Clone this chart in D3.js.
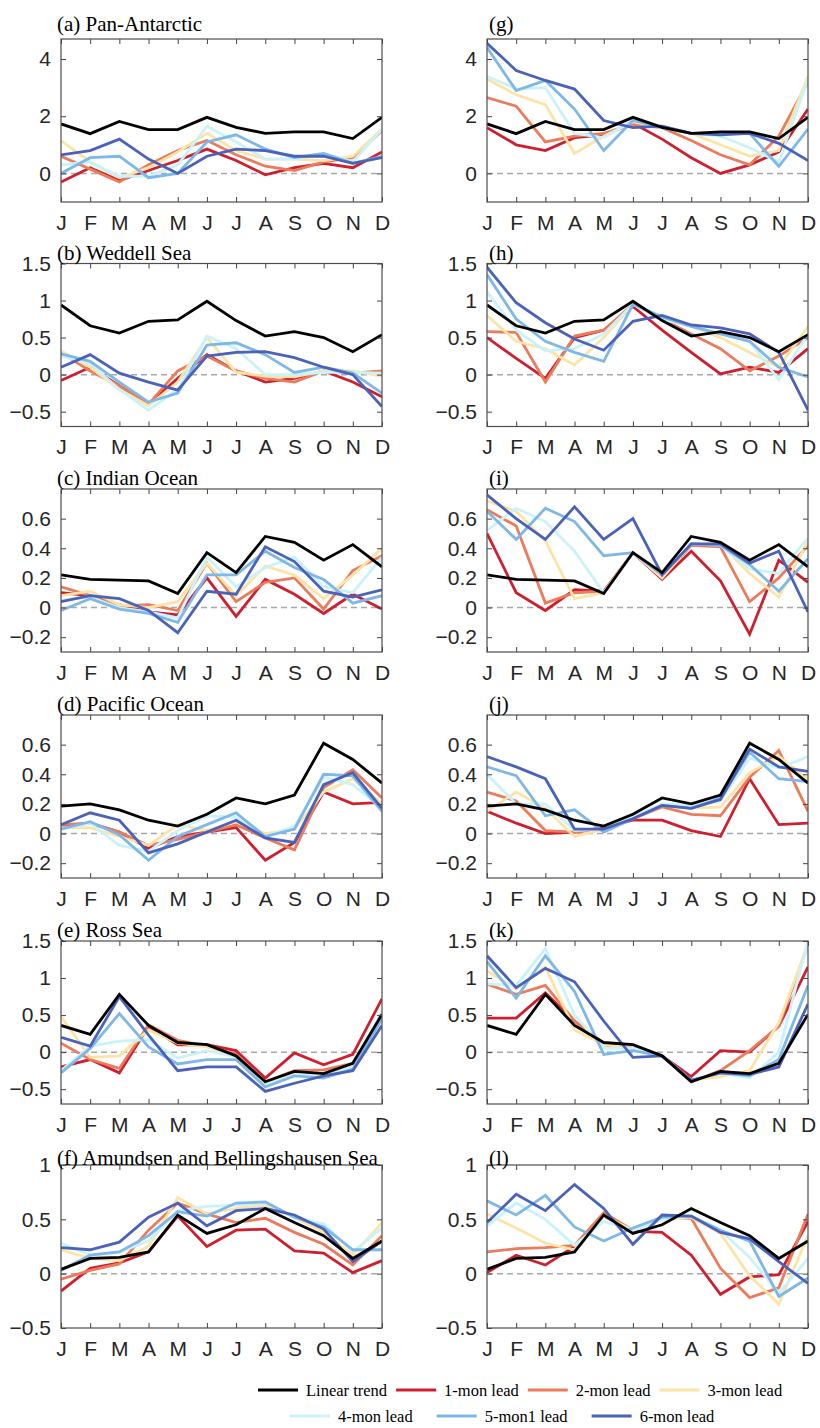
<!DOCTYPE html>
<html>
<head>
<meta charset="utf-8">
<script src="https://cdn.jsdelivr.net/npm/d3@7"></script>
<style>
  body { margin: 0; background: #fff; }
  .tick text { font-family: "Liberation Sans", Arial, sans-serif; font-size: 21px; fill: #262626; }
  .tick line { stroke: #444; }
  .title { font-family: "Liberation Serif", "Times New Roman", serif; font-size: 21px; fill: #000; }
  .leg { font-family: "Liberation Serif", "Times New Roman", serif; font-size: 16.5px; fill: #000; }
</style>
</head>
<body>
<script>
var months = ["J", "F", "M", "A", "M", "J", "J", "A", "S", "O", "N", "D"];
var names = ["Linear trend", "1-mon lead", "2-mon lead", "3-mon lead", "4-mon lead", "5-mon1 lead", "6-mon lead"];
var colors = ["#000000", "#cf1f2e", "#ec7b5b", "#fde4a6", "#caf2fb", "#7db8e8", "#4a62ba"];

// linear trend, shared by left and right columns
var trendPan = [1.73, 1.39, 1.82, 1.53, 1.53, 1.96, 1.61, 1.40, 1.45, 1.45, 1.22, 1.96];
var trendWed = [0.94, 0.66, 0.56, 0.72, 0.74, 0.99, 0.73, 0.52, 0.58, 0.50, 0.31, 0.54];
var trendInd = [0.22, 0.19, 0.185, 0.18, 0.095, 0.37, 0.235, 0.48, 0.44, 0.32, 0.425, 0.275];
var trendPac = [0.185, 0.20, 0.16, 0.09, 0.05, 0.13, 0.24, 0.20, 0.26, 0.61, 0.50, 0.34];
var trendRos = [0.36, 0.24, 0.78, 0.36, 0.13, 0.10, -0.05, -0.40, -0.26, -0.29, -0.15, 0.51];
var trendAmu = [0.04, 0.14, 0.15, 0.20, 0.54, 0.37, 0.45, 0.60, 0.47, 0.35, 0.14, 0.30];

// leads 1..6 for each panel
var leadsA = [
  [-0.3, 0.2, -0.25, 0.1, 0.45, 0.85, 0.45, -0.05, 0.2, 0.35, 0.2, 0.75],
  [0.6, 0.15, -0.3, 0.3, 0.8, 1.15, 0.65, 0.25, 0.1, 0.4, 0.55, 1.5],
  [1.15, 0.4, -0.15, 0.2, 0.75, 1.4, 0.8, 0.5, 0.5, 0.45, 0.6, 1.55],
  [0.3, 0.4, -0.1, -0.1, 0.3, 1.65, 1.1, 0.5, 0.5, 0.7, 0.4, 1.55],
  [0.0, 0.55, 0.6, -0.15, 0.0, 1.1, 1.35, 0.85, 0.55, 0.7, 0.35, 0.6],
  [0.65, 0.8, 1.2, 0.5, 0.0, 0.6, 0.85, 0.8, 0.6, 0.6, 0.35, 0.55]
];
var leadsG = [
  [1.6, 1.0, 0.8, 1.25, 1.35, 1.75, 1.2, 0.55, 0.0, 0.3, 0.75, 2.25],
  [2.65, 2.35, 1.1, 1.3, 1.4, 1.7, 1.6, 1.15, 0.65, 0.3, 1.3, 3.2],
  [3.3, 2.75, 2.4, 0.7, 1.3, 1.8, 1.6, 1.4, 1.0, 0.6, 0.8, 3.4],
  [3.4, 2.95, 3.0, 1.4, 1.25, 1.85, 1.65, 1.4, 1.3, 0.9, 0.4, 3.3],
  [4.4, 2.9, 3.25, 2.25, 0.8, 1.85, 1.6, 1.4, 1.4, 1.4, 0.25, 1.55],
  [4.55, 3.6, 3.25, 2.95, 1.85, 1.6, 1.65, 1.4, 1.35, 1.4, 1.05, 0.45]
];
var leadsB = [
  [-0.08, 0.1, -0.15, -0.4, -0.05, 0.27, 0.05, -0.1, -0.05, 0.05, -0.1, -0.3],
  [0.3, 0.05, -0.15, -0.4, 0.05, 0.25, 0.05, -0.05, -0.1, 0.05, 0.02, 0.05],
  [0.32, 0.1, -0.2, -0.42, -0.1, 0.5, 0.03, -0.02, -0.03, 0.05, 0.05, -0.02],
  [0.25, 0.15, -0.2, -0.48, -0.2, 0.52, 0.35, 0.0, 0.0, 0.03, 0.03, 0.02],
  [0.28, 0.18, -0.1, -0.37, -0.25, 0.4, 0.43, 0.27, 0.03, 0.1, 0.02, -0.25],
  [0.1, 0.27, 0.02, -0.1, -0.21, 0.25, 0.3, 0.31, 0.23, 0.1, 0.0, -0.43]
];
var leadsH = [
  [0.5, 0.22, -0.05, 0.5, 0.6, 0.92, 0.6, 0.3, 0.01, 0.1, 0.03, 0.35],
  [0.58, 0.57, -0.1, 0.52, 0.6, 0.95, 0.75, 0.55, 0.35, 0.05, 0.25, 0.5],
  [0.8, 0.45, 0.35, 0.13, 0.5, 0.95, 0.75, 0.65, 0.5, 0.3, 0.1, 0.65],
  [1.12, 0.6, 0.32, 0.35, 0.55, 0.95, 0.75, 0.65, 0.55, 0.45, -0.07, 0.55],
  [1.35, 0.75, 0.45, 0.3, 0.18, 0.95, 0.78, 0.65, 0.55, 0.45, 0.1, -0.03],
  [1.45, 0.97, 0.7, 0.48, 0.33, 0.72, 0.8, 0.67, 0.63, 0.55, 0.3, -0.48]
];
var leadsC = [
  [0.1, 0.08, 0.02, -0.03, -0.05, 0.2, -0.06, 0.19, 0.09, -0.04, 0.09, -0.01],
  [0.14, 0.08, 0.01, 0.02, -0.02, 0.3, 0.04, 0.17, 0.2, -0.01, 0.25, 0.35],
  [0.08, 0.11, 0.02, 0.0, 0.04, 0.3, 0.08, 0.28, 0.22, 0.06, 0.22, 0.4],
  [0.05, 0.07, 0.0, -0.03, -0.07, 0.34, 0.14, 0.27, 0.34, 0.14, 0.1, 0.34],
  [-0.02, 0.06, -0.01, -0.04, -0.1, 0.22, 0.22, 0.38, 0.27, 0.19, 0.03, 0.08],
  [0.04, 0.08, 0.06, -0.02, -0.17, 0.11, 0.09, 0.41, 0.31, 0.11, 0.07, 0.12]
];
var leadsI = [
  [0.5, 0.1, -0.02, 0.12, 0.11, 0.37, 0.19, 0.38, 0.18, -0.18, 0.32, 0.17],
  [0.66, 0.55, 0.03, 0.1, 0.11, 0.37, 0.2, 0.42, 0.41, 0.04, 0.2, 0.42],
  [0.72, 0.65, 0.45, 0.06, 0.1, 0.37, 0.2, 0.43, 0.43, 0.23, 0.07, 0.45],
  [0.52, 0.67, 0.58, 0.38, 0.1, 0.37, 0.22, 0.43, 0.42, 0.26, 0.23, 0.47],
  [0.65, 0.46, 0.67, 0.58, 0.35, 0.37, 0.22, 0.43, 0.42, 0.29, 0.11, 0.33],
  [0.76, 0.6, 0.46, 0.68, 0.46, 0.6, 0.22, 0.43, 0.43, 0.3, 0.38, -0.03]
];
var leadsD = [
  [0.05, 0.07, 0.01, -0.1, -0.02, 0.01, 0.04, -0.18, -0.06, 0.28, 0.2, 0.21],
  [0.06, 0.07, 0.01, -0.08, -0.04, 0.01, 0.06, -0.03, -0.11, 0.31, 0.43, 0.24],
  [0.04, 0.04, -0.02, -0.08, 0.06, 0.02, 0.08, 0.0, 0.03, 0.28, 0.37, 0.2],
  [0.03, 0.07, -0.08, -0.12, 0.02, 0.12, 0.11, -0.02, 0.05, 0.38, 0.33, 0.17],
  [0.03, 0.08, -0.01, -0.18, -0.02, 0.06, 0.14, -0.02, 0.03, 0.4, 0.39, 0.15],
  [0.06, 0.14, 0.09, -0.13, -0.07, 0.01, 0.09, -0.03, -0.06, 0.33, 0.41, 0.17]
];
var leadsJ = [
  [0.15, 0.07, 0.0, 0.01, 0.04, 0.09, 0.09, 0.02, -0.02, 0.37, 0.06, 0.07],
  [0.28, 0.22, 0.02, 0.01, 0.03, 0.1, 0.18, 0.13, 0.12, 0.38, 0.56, 0.15],
  [0.15, 0.28, 0.17, -0.02, 0.03, 0.11, 0.2, 0.17, 0.18, 0.41, 0.52, 0.37],
  [0.4, 0.2, 0.2, 0.02, 0.03, 0.11, 0.2, 0.19, 0.22, 0.51, 0.44, 0.52],
  [0.45, 0.39, 0.12, 0.16, 0.01, 0.1, 0.19, 0.17, 0.24, 0.55, 0.37, 0.35],
  [0.52, 0.45, 0.37, 0.03, 0.03, 0.1, 0.19, 0.17, 0.23, 0.57, 0.45, 0.42]
];
var leadsE = [
  [-0.2, -0.1, -0.28, 0.35, 0.1, 0.1, 0.02, -0.35, -0.01, -0.17, -0.03, 0.72],
  [0.12, -0.1, -0.22, 0.37, 0.16, 0.08, -0.03, -0.4, -0.25, -0.24, -0.15, 0.47],
  [0.48, -0.07, -0.05, 0.3, 0.12, 0.07, -0.05, -0.42, -0.27, -0.3, -0.18, 0.5],
  [-0.25, 0.08, 0.15, 0.17, -0.08, 0.02, -0.06, -0.45, -0.3, -0.33, -0.2, 0.55],
  [-0.28, 0.05, 0.52, 0.07, -0.16, -0.1, -0.1, -0.47, -0.32, -0.35, -0.23, 0.45],
  [0.2, 0.08, 0.75, 0.23, -0.25, -0.2, -0.2, -0.53, -0.42, -0.32, -0.25, 0.36]
];
var leadsK = [
  [0.46, 0.46, 0.8, 0.42, 0.1, 0.05, -0.05, -0.33, 0.02, 0.0, 0.35, 1.15],
  [0.92, 0.78, 0.9, 0.42, 0.12, 0.05, -0.05, -0.4, -0.25, 0.02, 0.35, 1.45],
  [1.1, 0.85, 1.15, 0.3, 0.1, 0.05, -0.05, -0.38, -0.33, -0.25, 0.4, 1.45],
  [0.92, 0.9, 1.4, 0.5, 0.05, 0.05, -0.05, -0.38, -0.28, -0.35, 0.0, 1.5],
  [1.22, 0.73, 1.3, 0.82, -0.03, 0.02, -0.05, -0.38, -0.28, -0.32, -0.1, 0.9],
  [1.3, 0.87, 1.13, 0.95, 0.42, -0.07, -0.05, -0.38, -0.28, -0.3, -0.2, 0.65]
];
var leadsF = [
  [-0.16, 0.05, 0.1, 0.2, 0.53, 0.25, 0.4, 0.41, 0.21, 0.19, 0.01, 0.12],
  [-0.05, 0.03, 0.09, 0.4, 0.65, 0.55, 0.47, 0.51, 0.38, 0.27, 0.08, 0.35],
  [0.22, 0.14, 0.12, 0.25, 0.7, 0.55, 0.6, 0.63, 0.52, 0.38, 0.17, 0.47],
  [0.28, 0.17, 0.2, 0.3, 0.58, 0.62, 0.63, 0.65, 0.52, 0.46, 0.2, 0.42],
  [0.03, 0.17, 0.2, 0.35, 0.57, 0.53, 0.65, 0.66, 0.52, 0.43, 0.22, 0.22],
  [0.24, 0.22, 0.29, 0.52, 0.65, 0.44, 0.58, 0.6, 0.54, 0.41, 0.11, 0.3]
];
var leadsL = [
  [0.01, 0.17, 0.08, 0.25, 0.53, 0.39, 0.38, 0.17, -0.19, -0.03, -0.01, 0.48],
  [0.2, 0.23, 0.24, 0.26, 0.56, 0.4, 0.52, 0.51, 0.05, -0.22, -0.13, 0.55],
  [0.55, 0.42, 0.28, 0.22, 0.53, 0.4, 0.5, 0.52, 0.37, -0.02, -0.28, 0.35],
  [0.44, 0.65, 0.5, 0.26, 0.48, 0.4, 0.5, 0.53, 0.4, 0.15, -0.18, 0.14],
  [0.67, 0.54, 0.72, 0.43, 0.3, 0.42, 0.52, 0.53, 0.4, 0.3, -0.21, -0.04],
  [0.47, 0.73, 0.58, 0.82, 0.6, 0.27, 0.54, 0.53, 0.38, 0.32, 0.11, -0.09]
];

// y ranges and ticks
var domPan = [-1, 4.7], ticksPan = [0, 2, 4];
var domHalf = [-0.7, 1.5], ticksHalf = [-0.5, 0, 0.5, 1, 1.5];
var domSmall = [-0.3, 0.8], ticksSmall = [-0.2, 0, 0.2, 0.4, 0.6];
var domAmu = [-0.5, 1], ticksAmu = [-0.5, 0, 0.5, 1];

var rowTops = [39, 263.5, 489, 715, 941, 1165];
var titleShift = [8, 4, 4, 4, 4, 0];
var boxH = 163;
var cols = [[61, 382], [487, 808]];

var panels = [
  {col: 0, row: 0, title: "(a) Pan-Antarctic", trend: trendPan, leads: leadsA, dom: domPan, ticks: ticksPan},
  {col: 0, row: 1, title: "(b) Weddell Sea", trend: trendWed, leads: leadsB, dom: domHalf, ticks: ticksHalf},
  {col: 0, row: 2, title: "(c) Indian Ocean", trend: trendInd, leads: leadsC, dom: domSmall, ticks: ticksSmall},
  {col: 0, row: 3, title: "(d) Pacific Ocean", trend: trendPac, leads: leadsD, dom: domSmall, ticks: ticksSmall},
  {col: 0, row: 4, title: "(e) Ross Sea", trend: trendRos, leads: leadsE, dom: domHalf, ticks: ticksHalf},
  {col: 0, row: 5, title: "(f) Amundsen and Bellingshausen Sea", trend: trendAmu, leads: leadsF, dom: domAmu, ticks: ticksAmu},
  {col: 1, row: 0, title: "(g)", trend: trendPan, leads: leadsG, dom: domPan, ticks: ticksPan},
  {col: 1, row: 1, title: "(h)", trend: trendWed, leads: leadsH, dom: domHalf, ticks: ticksHalf},
  {col: 1, row: 2, title: "(i)", trend: trendInd, leads: leadsI, dom: domSmall, ticks: ticksSmall},
  {col: 1, row: 3, title: "(j)", trend: trendPac, leads: leadsJ, dom: domSmall, ticks: ticksSmall},
  {col: 1, row: 4, title: "(k)", trend: trendRos, leads: leadsK, dom: domHalf, ticks: ticksHalf},
  {col: 1, row: 5, title: "(l)", trend: trendAmu, leads: leadsL, dom: domAmu, ticks: ticksAmu}
];

var svg = d3.select("body").append("svg")
  .attr("width", 820)
  .attr("height", 1428);

function drawPanel(p) {
  var x0 = cols[p.col][0], x1 = cols[p.col][1];
  var top = rowTops[p.row], bottom = top + boxH;
  var x = d3.scaleLinear().domain([0, 11]).range([x0, x1]);
  var y = d3.scaleLinear().domain(p.dom).range([bottom, top]);
  var g = svg.append("g");

  // clip so lines stay in the box
  var clipId = "clip" + p.col + p.row;
  svg.append("clipPath").attr("id", clipId)
    .append("rect").attr("x", x0).attr("y", top).attr("width", x1 - x0).attr("height", boxH);

  // zero line
  g.append("line")
    .attr("x1", x0).attr("x2", x1)
    .attr("y1", y(0)).attr("y2", y(0))
    .attr("stroke", "#a8a8a8")
    .attr("stroke-width", 1.5)
    .attr("stroke-dasharray", "6,4");

  var line = d3.line().x((d, i) => x(i)).y(d => y(d));
  var series = p.leads.concat([p.trend]);
  var cl = colors.slice(1).concat([colors[0]]);
  g.append("g").attr("clip-path", "url(#" + clipId + ")")
    .selectAll("path").data(series).enter()
    .append("path")
    .attr("d", line)
    .attr("fill", "none")
    .attr("stroke", (d, i) => cl[i])
    .attr("stroke-width", 2.8)
    .attr("stroke-linejoin", "miter");

  // axes (ticks pointing inward on all four sides)
  var monthTicks = d3.range(12);
  g.append("g").attr("transform", "translate(0," + bottom + ")")
    .call(d3.axisBottom(x).tickValues(monthTicks).tickFormat(i => months[i]).tickSizeInner(-5).tickSizeOuter(0).tickPadding(13))
    .call(a => a.select(".domain").remove());
  g.append("g").attr("transform", "translate(0," + top + ")")
    .call(d3.axisTop(x).tickValues(monthTicks).tickFormat("").tickSizeInner(-5).tickSizeOuter(0))
    .call(a => a.select(".domain").remove());
  g.append("g").attr("transform", "translate(" + x0 + ",0)")
    .call(d3.axisLeft(y).tickValues(p.ticks).tickFormat(d3.format("")).tickSizeInner(-5).tickSizeOuter(0).tickPadding(10))
    .call(a => a.select(".domain").remove());
  g.append("g").attr("transform", "translate(" + x1 + ",0)")
    .call(d3.axisRight(y).tickValues(p.ticks).tickFormat("").tickSizeInner(-5).tickSizeOuter(0))
    .call(a => a.select(".domain").remove());

  g.append("rect")
    .attr("x", x0).attr("y", top)
    .attr("width", x1 - x0).attr("height", boxH)
    .attr("fill", "none")
    .attr("stroke", "#4d4d4d")
    .attr("stroke-width", 1.2);

  g.append("text")
    .attr("class", "title")
    .attr("x", p.col === 0 ? x0 - 4 : x0 + 2)
    .attr("y", top - titleShift[p.row])
    .text(p.title);
}

panels.forEach(drawPanel);

// legend, two rows
var legendRows = [[0, 1, 2, 3], [4, 5, 6]];
var legendX = [258, 290];
var legendGap = [9, 24];
var legendY = [1390, 1416];
legendRows.forEach(function(row, r) {
  var xPos = legendX[r];
  row.forEach(function(k) {
    svg.append("line")
      .attr("x1", xPos).attr("x2", xPos + 40)
      .attr("y1", legendY[r]).attr("y2", legendY[r])
      .attr("stroke", colors[k])
      .attr("stroke-width", 2.8);
    var t = svg.append("text")
      .attr("class", "leg")
      .attr("x", xPos + 48)
      .attr("y", legendY[r] + 6)
      .text(names[k]);
    xPos += 48 + t.node().getComputedTextLength() + legendGap[r];
  });
});
</script>
</body>
</html>
